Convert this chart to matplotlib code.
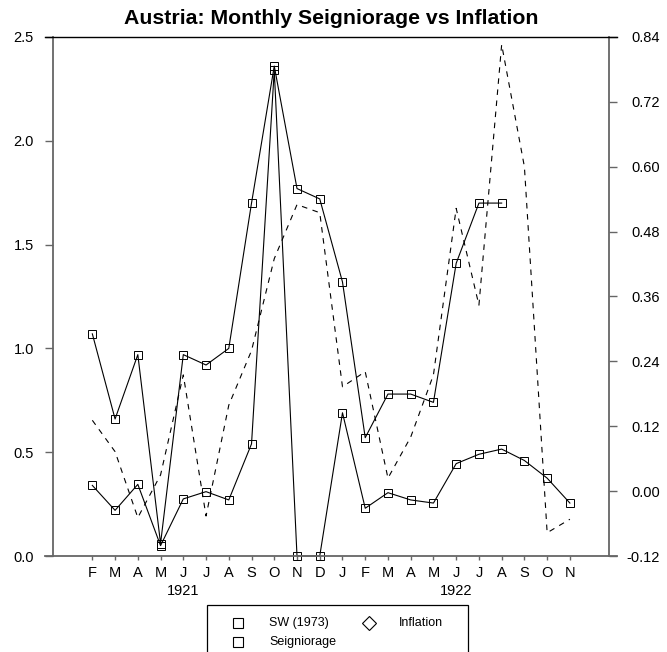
import matplotlib
matplotlib.use('Agg')
import matplotlib.pyplot as plt
from matplotlib.lines import Line2D
from matplotlib.patches import Rectangle

# ---- data ----
months = ['F', 'M', 'A', 'M', 'J', 'J', 'A', 'S', 'O', 'N', 'D',
          'J', 'F', 'M', 'A', 'M', 'J', 'J', 'A', 'S', 'O', 'N']
year_labels = ['1921', '1922']
year_label_pos = [4, 16]

sw1973 = [1.07, 0.66, 0.97, 0.06, 0.97, 0.92, 1.00, 1.70, 2.36, 1.77, 1.72,
          1.32, 0.57, 0.78, 0.78, 0.74, 1.41, 1.70, 1.70]
seigniorage = [0.34, 0.22, 0.345, 0.05, 0.275, 0.31, 0.27, 0.54, 2.34, 0.00, 0.00,
               0.69, 0.23, 0.305, 0.27, 0.255, 0.445, 0.49, 0.515, 0.46, 0.375, 0.255]
inflation = [0.131, 0.073, -0.049, 0.03, 0.215, -0.046, 0.159, 0.26, 0.43, 0.53, 0.515,
             0.193, 0.221, 0.024, 0.10, 0.215, 0.523, 0.344, 0.826, 0.60, -0.077, -0.052]

left_ticks = [0.0, 0.5, 1.0, 1.5, 2.0, 2.5]
right_ticks = [-0.12, 0.00, 0.12, 0.24, 0.36, 0.48, 0.60, 0.72, 0.84]

legend_labels = ['SW (1973)', 'Seigniorage', 'Inflation']

# ---- figure ----
plt.rcParams['font.family'] = ['Liberation Sans', 'DejaVu Sans']
plt.rcParams['axes.unicode_minus'] = False

W, H = 667, 652
fig = plt.figure(figsize=(W / 100, H / 100), dpi=100)
L, R, T, B = 53, 609, 37, 556
ax = fig.add_axes([L / W, 1 - B / H, (R - L) / W, (B - T) / H])
ax2 = ax.twinx()

gray = '#666666'
x = list(range(len(months)))
mk = dict(color='black', lw=0.8, marker='s', ms=5.5, mfc='none', mec='black', mew=0.7,
          clip_on=False, zorder=3)
ax.plot(x[:len(sw1973)], sw1973, **mk)
ax.plot(x[:len(seigniorage)], seigniorage, **mk)
ax2.plot(x[:len(inflation)], inflation, color='black', lw=0.8, ls=(0, (5, 5)))

ax.set_xlim(-1.73, 22.72)
ax.set_ylim(left_ticks[0], left_ticks[-1])
ax2.set_ylim(right_ticks[0], right_ticks[-1])

ax.set_xticks(x)
ax.set_xticklabels(months)
ax.set_yticks(left_ticks)
ax.set_yticklabels(['%.1f' % v for v in left_ticks])
ax2.set_yticks(right_ticks)
ax2.set_yticklabels(['%.2f' % v for v in right_ticks], ha='right')

for a in (ax, ax2):
    for s in a.spines.values():
        s.set_visible(False)
ax.spines['left'].set_visible(True)
ax2.spines['right'].set_visible(True)
for s in (ax.spines['left'], ax2.spines['right']):
    s.set_color(gray)
    s.set_linewidth(1.3)

ax.tick_params(axis='y', length=5.8, width=1.0, color=gray, pad=8, labelsize=10.5)
ax.tick_params(axis='x', length=3.0, width=1.0, color=gray, pad=4.5, labelsize=10.5)
ax2.tick_params(axis='y', length=5.8, width=1.0, color=gray, pad=31, labelsize=10.5)

# extended lines at top and bottom
fig.add_artist(Line2D([45 / W, 617 / W], [1 - T / H] * 2, color='black', lw=1.0))
bline = Line2D([45 / W, 617 / W], [1 - B / H] * 2, color=gray, lw=1.3, zorder=0.5)
fig.add_artist(bline)

for lab, pos in zip(year_labels, year_label_pos):
    ax.annotate(lab, xy=(pos, 0), xycoords=('data', 'axes fraction'),
                xytext=(0, -25.5), textcoords='offset points',
                ha='center', va='center', fontsize=10.5)

fig.text((L + R) / 2 / W, 1 - 18 / H, 'Austria: Monthly Seigniorage vs Inflation',
         ha='center', va='center', fontweight='bold', fontsize=15.3)

# legend (box runs past the bottom edge)
fig.add_artist(Rectangle((207 / W, 1 - 665 / H), (468 - 207) / W, (665 - 605) / H,
                         transform=fig.transFigure, fill=False, ec='black', lw=0.9))
leg_items = [(238, 623, 's', legend_labels[0], 269),
             (238, 642, 's', legend_labels[1], 269),
             (369, 623, 'D', legend_labels[2], 399)]
for mx, my, m, lab, tx in leg_items:
    fig.add_artist(Line2D([mx / W], [1 - my / H], marker=m, ls='none',
                          ms=7 if m == 's' else 7.5, mfc='none', mec='black', mew=0.8,
                          transform=fig.transFigure))
    fig.text(tx / W, 1 - my / H, lab, ha='left', va='center', fontsize=9)

fig.savefig('out.png', dpi=100)
